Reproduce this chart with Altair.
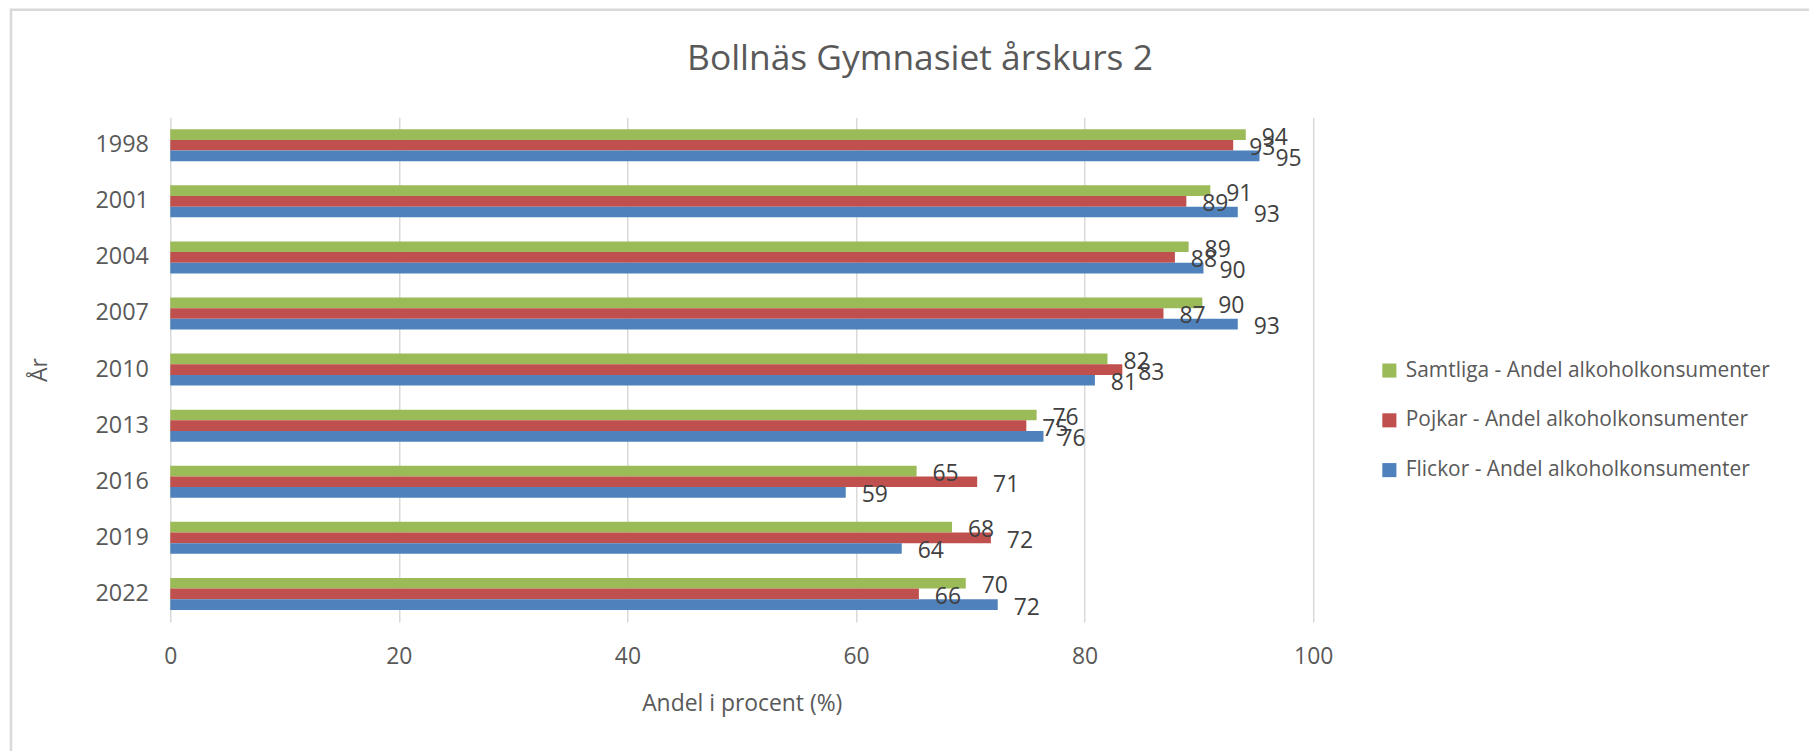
import altair as alt
import pandas as pd

title_text = "Bollnäs Gymnasiet årskurs 2"
years = ["1998", "2001", "2004", "2007", "2010", "2013", "2016", "2019", "2022"]
series = ["Samtliga - Andel alkoholkonsumenter",
          "Pojkar - Andel alkoholkonsumenter",
          "Flickor - Andel alkoholkonsumenter"]
samtliga = [94.1, 91.0, 89.1, 90.3, 82.0, 75.8, 65.3, 68.4, 69.6]
pojkar = [93.0, 88.9, 87.9, 86.9, 83.3, 74.9, 70.6, 71.8, 65.5]
flickor = [95.3, 93.4, 90.4, 93.4, 80.9, 76.4, 59.1, 64.0, 72.4]
colors = ["#9BBB59", "#C0504D", "#4F81BD"]
x_ticks = [0, 20, 40, 60, 80, 100]

rows = []
for s, vals in zip(series, [samtliga, pojkar, flickor]):
    for y, v in zip(years, vals):
        rows.append({"year": y, "series": s, "value": v})
df = pd.DataFrame(rows)

FONT = "Open Sans"
GREY = "#595959"
W, H = 1148, 507

y_enc = alt.Y("year:N", sort=years,
              scale=alt.Scale(paddingInner=0.43, paddingOuter=0.215),
              axis=alt.Axis(title="År", ticks=False, domain=False, labelPadding=22,
                            labelFontSize=23.5, labelColor=GREY, labelFont=FONT,
                            titleFontSize=23, titleColor=GREY, titleFont=FONT,
                            titleFontWeight="normal", titlePadding=44))
yoff = alt.YOffset("series:N", sort=series, scale=alt.Scale(paddingInner=0, paddingOuter=0))
x_enc = alt.X("value:Q", scale=alt.Scale(domain=[0, 100], nice=False),
              axis=alt.Axis(title="Andel i procent (%)", values=x_ticks, grid=True,
                            gridColor="#d9d9d9", gridWidth=1.5, domain=False,
                            ticks=False, labelPadding=24, labelFlush=False,
                            labelFontSize=23, labelColor=GREY, labelFont=FONT,
                            titleFontSize=23, titleColor=GREY, titleFont=FONT,
                            titleFontWeight="normal", titlePadding=24))

color = alt.Color("series:N", sort=series,
                  scale=alt.Scale(domain=series, range=colors),
                  legend=alt.Legend(title=None, orient="none", legendX=1214, legendY=244,
                                    symbolType="square", symbolSize=200, symbolStrokeWidth=0,
                                    labelFontSize=21, labelColor=GREY, labelFont=FONT,
                                    labelLimit=0, rowPadding=28, labelOffset=6))

bars = alt.Chart(df).mark_bar(height={"band": 1}).encode(
    x=x_enc, y=y_enc, yOffset=yoff, color=color
)
labels = alt.Chart(df).mark_text(align="left", baseline="middle", dx=16, dy=3,
                                 fontSize=23, font=FONT, color="#404040").encode(
    x="value:Q", y=alt.Y("year:N", sort=years), yOffset=alt.YOffset("series:N", sort=series),
    text=alt.Text("value:Q", format=".0f")
)
single = alt.Data(values=[{"a": 1}])
frame = alt.Chart(single).mark_rect(filled=False, stroke="#d9d9d9", strokeWidth=2.5).encode(
    x=alt.value(-160), x2=alt.value(2200), y=alt.value(-108), y2=alt.value(1200)
)
title = alt.Chart(single).mark_text(fontSize=35.5, font=FONT, color=GREY, align="center",
                                    baseline="middle").encode(
    x=alt.value(753), y=alt.value(-58), text=alt.value(title_text)
)

chart = alt.layer(frame, bars, labels, title).properties(
    width=W, height=H,
    padding={"left": 163, "top": 108, "right": 498, "bottom": 136},
    autosize=alt.AutoSizeParams(type="none"),
).configure(background="white", view=alt.ViewConfig(stroke=None))

chart.save("out.html", embed_options={"renderer": "svg", "actions": False})
